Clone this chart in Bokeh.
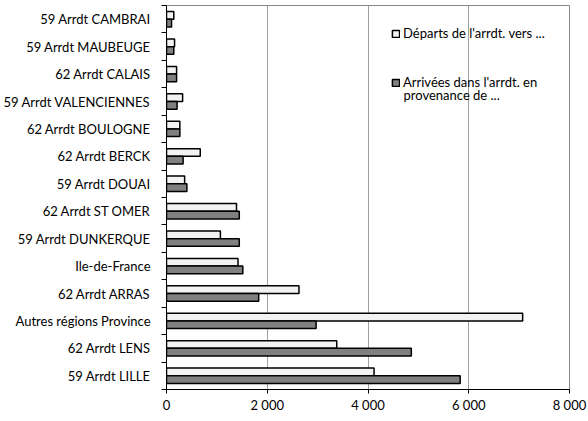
from bokeh.plotting import figure
from bokeh.models import (Range1d, FixedTicker, Legend, LegendItem, ColumnDataSource, Label)
from bokeh.transform import dodge
from bokeh.embed import file_html
from bokeh.resources import INLINE

# categories listed bottom -> top
categories = ["59 Arrdt LILLE", "62 Arrdt LENS", "Autres régions Province",
              "62 Arrdt ARRAS", "Ile-de-France", "59 Arrdt DUNKERQUE",
              "62 Arrdt ST OMER", "59 Arrdt DOUAI", "62 Arrdt BERCK",
              "62 Arrdt BOULOGNE", "59 Arrdt VALENCIENNES", "62 Arrdt CALAIS",
              "59 Arrdt MAUBEUGE", "59 Arrdt CAMBRAI"]
departs = [4120, 3380, 7070, 2630, 1420, 1070, 1390, 360, 670, 265, 320, 200, 160, 145]
arrivees = [5830, 4860, 2970, 1830, 1515, 1445, 1445, 405, 330, 265, 210, 200, 145, 100]
x_ticks = [0, 2000, 4000, 6000, 8000]
x_tick_labels = ["0", "2 000", "4 000", "6 000", "8 000"]
legend_labels = ["Départs de l'arrdt. vers ...",
                 "Arrivées dans l'arrdt. en", "provenance de ..."]

FONT = "Lato"
FS = "13px"

n = len(categories)
centers = [i + 0.5 for i in range(n)]
src = ColumnDataSource(dict(cat=categories, pos=centers, dep=departs, arr=arrivees))

p = figure(width=588, height=421, output_backend="svg", toolbar_location=None,
           y_range=Range1d(0, n), x_range=Range1d(0, 8000),
           min_border_left=166, min_border_right=19,
           min_border_top=5, min_border_bottom=32)
p.outline_line_color = "#868686"
p.outline_line_width = 1
p.background_fill_color = "white"
p.border_fill_color = "white"

r1 = p.hbar(y=dodge("pos", 0.14), right="dep", left=0, height=0.28,
            source=src, fill_color="#f2f2f2", line_color="black", line_width=1.5)
r2 = p.hbar(y=dodge("pos", -0.14), right="arr", left=0, height=0.28,
            source=src, fill_color="#808080", line_color="black", line_width=1.5)

# x axis
xa = p.xaxis[0]
xa.ticker = FixedTicker(ticks=x_ticks)
xa.major_label_overrides = {t: l for t, l in zip(x_ticks, x_tick_labels)}
xa.axis_line_color = "black"
xa.major_tick_line_color = "black"
xa.major_tick_in = 0
xa.major_tick_out = 4
xa.minor_tick_line_color = None
xa.major_label_standoff = 3
xa.major_label_text_font = FONT
xa.major_label_text_font_size = FS
xa.major_label_text_color = "black"

p.xgrid.grid_line_color = "#a0a0a0"
p.ygrid.grid_line_color = None

# y axis: labels at category centres, ticks between categories
ya = p.yaxis[0]
ya.ticker = FixedTicker(ticks=centers, minor_ticks=list(range(n + 1)))
ya.major_label_overrides = {c: name for c, name in zip(centers, categories)}
ya.axis_line_color = "black"
ya.major_tick_line_color = None
ya.major_tick_out = 5
ya.major_tick_in = 0
ya.minor_tick_line_color = "black"
ya.minor_tick_out = 5
ya.minor_tick_in = 0
ya.major_label_standoff = 11
ya.major_label_text_font = FONT
ya.major_label_text_font_size = FS
ya.major_label_text_color = "black"

legend = Legend(items=[LegendItem(label=legend_labels[0], renderers=[r1]),
                       LegendItem(label=legend_labels[1], renderers=[r2])],
                location=(225, 299), background_fill_alpha=0, border_line_color=None,
                glyph_width=9, glyph_height=9, label_text_font=FONT,
                label_text_font_size=FS, label_text_color="black",
                spacing=33, margin=0, padding=0, label_standoff=3)
p.add_layout(legend)

p.add_layout(Label(x=237, y=295, x_units="screen", y_units="screen",
                   text=legend_labels[2], text_font=FONT, text_font_size=FS,
                   text_color="black", text_baseline="middle"))

open("out.html", "w").write(file_html(p, INLINE))
